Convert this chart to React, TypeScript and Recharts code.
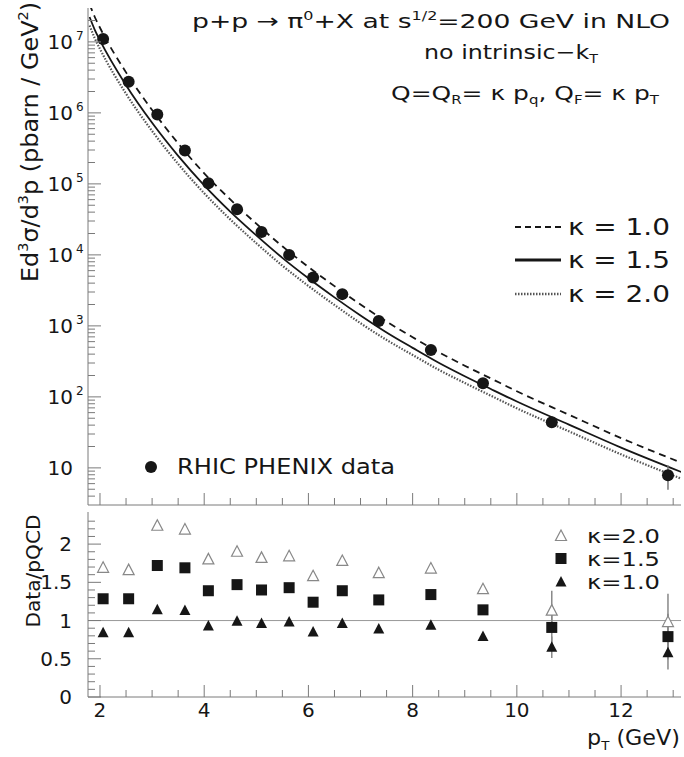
import React from "react";
import {
  ComposedChart,
  ErrorBar,
  Line,
  ReferenceLine,
  Scatter,
  XAxis,
  YAxis,
} from "recharts";

const FONT = "'DejaVu Sans', sans-serif";
const INK = "#161616";
const FRAME = "#7a7a7a";

// PHENIX pi0 points, pT in GeV
const PT = [2.06, 2.55, 3.1, 3.63, 4.08, 4.63, 5.1, 5.63, 6.09, 6.65, 7.35, 8.35, 9.35, 10.67, 12.9];
const XSEC = [1.1e7, 2.75e6, 9.5e5, 2.95e5, 1.02e5, 4.4e4, 2.1e4, 1.0e4, 4.8e3, 2.8e3, 1170, 457, 155, 44, 7.9];
const XSEC_ERR = [0, 0, 0, 0, 0, 0, 0, 0, 0, 0, 0, 0, 0, 0, 3];

// NLO curves
const CURVE_PT = [1.8, 1.9, 2, 2.5, 3, 3.5, 4, 4.5, 5, 5.5, 6, 6.5, 7, 7.5, 8, 8.5, 9, 9.5, 10, 11, 12, 13.2];
const NLO_K10 = [3.39e7, 2.24e7, 1.58e7, 3.72e6, 1.1e6, 3.72e5, 1.41e5, 6.03e4, 2.75e4, 1.32e4, 6760, 3630, 2000, 1150, 692, 427, 275, 182, 120, 56, 26.3, 11.5];
const NLO_K15 = [2.24e7, 1.48e7, 1.05e7, 2.45e6, 7.24e5, 2.48e5, 9.55e4, 4.07e4, 1.88e4, 9080, 4680, 2520, 1400, 807, 490, 302, 195, 129, 86, 40.6, 19.3, 8.5];
const NLO_K20 = [1.7e7, 1.12e7, 7.94e6, 1.86e6, 5.56e5, 1.91e5, 7.38e4, 3.16e4, 1.46e4, 7050, 3650, 1970, 1090, 634, 389, 241, 157, 104, 69, 32.7, 15.5, 6.84];

// Data / pQCD
const RATIO_K20 = [1.69, 1.66, 2.24, 2.19, 1.8, 1.9, 1.82, 1.84, 1.58, 1.78, 1.62, 1.68, 1.41, 1.13, 0.98];
const RATIO_K15 = [1.285, 1.285, 1.72, 1.69, 1.39, 1.47, 1.4, 1.43, 1.24, 1.39, 1.27, 1.34, 1.14, 0.91, 0.79];
const RATIO_K10 = [0.84, 0.84, 1.14, 1.13, 0.93, 0.99, 0.96, 0.98, 0.85, 0.96, 0.89, 0.94, 0.79, 0.65, 0.58];
const ERR_K20 = [0, 0, 0, 0, 0, 0, 0, 0, 0, 0, 0, 0, 0, 0.26, 0.37];
const ERR_K15 = [0, 0, 0, 0, 0, 0, 0, 0, 0, 0, 0, 0, 0, 0.2, 0.3];
const ERR_K10 = [0, 0, 0, 0, 0, 0, 0, 0, 0, 0, 0, 0, 0, 0.14, 0.22];

const X_DOMAIN = [1.77, 13.15];
const X_TICKS = [2, 2.5, 3, 3.5, 4, 4.5, 5, 5.5, 6, 6.5, 7, 7.5, 8, 8.5, 9, 9.5, 10, 10.5, 11, 11.5, 12, 12.5, 13];
const X_LABELS = [2, 4, 6, 8, 10, 12];
const Y_DOMAIN = [3, 3e7];
const RATIO_DOMAIN = [0, 2.42];
const RATIO_TICKS = [0, 0.1, 0.2, 0.3, 0.4, 0.5, 0.6, 0.7, 0.8, 0.9, 1, 1.1, 1.2, 1.3, 1.4, 1.5, 1.6, 1.7, 1.8, 1.9, 2, 2.1, 2.2, 2.3];
const RATIO_LABELS = [0, 0.5, 1, 1.5, 2];

const LOG_TICKS: number[] = [];
for (let e = 0; e <= 7; e++) {
  for (let m = 1; m <= 9; m++) {
    const v = m * Math.pow(10, e);
    if (v > Y_DOMAIN[0] && v < Y_DOMAIN[1]) LOG_TICKS.push(v);
  }
}

const rows = (xs: number[], ys: number[], errs?: number[]) =>
  xs.map((pt, i) => ({ pt, v: ys[i], err: errs ? errs[i] : 0 }));

function XTick(props: any) {
  const { x, y, payload, showLabel } = props;
  const v = payload.value;
  const major = X_LABELS.includes(v);
  return (
    <g>
      <line x1={x} x2={x} y1={y} y2={y - (major ? 12 : 7)} stroke={FRAME} />
      {showLabel && major && (
        <text x={x} y={y + 20} textAnchor="middle" fontSize={20} fill={INK} fontFamily={FONT}>
          {v}
        </text>
      )}
    </g>
  );
}

function LogTick(props: any) {
  const { x, y, payload } = props;
  const v = payload.value;
  const e = Math.round(Math.log10(v));
  const major = Math.abs(Math.log10(v) - e) < 1e-9;
  return (
    <g>
      <line x1={x} x2={x + (major ? 13 : 7)} y1={y} y2={y} stroke={FRAME} />
      {major && (
        <text x={x - 15} y={y + 7} textAnchor="end" fontSize={20} fill={INK} fontFamily={FONT}>
          10
        </text>
      )}
      {major && e > 1 && (
        <text x={x - 12} y={y - 2} fontSize={12} fill={INK} fontFamily={FONT}>
          {e}
        </text>
      )}
    </g>
  );
}

function RatioTick(props: any) {
  const { x, y, payload } = props;
  const v = payload.value;
  const major = RATIO_LABELS.includes(v);
  return (
    <g>
      <line x1={x} x2={x + (major ? 13 : 7)} y1={y} y2={y} stroke={FRAME} />
      {major && (
        <text x={x - 16} y={y + 7} textAnchor="end" fontSize={20} fill={INK} fontFamily={FONT}>
          {v}
        </text>
      )}
    </g>
  );
}

const Dot = (p: any) => <circle cx={p.cx} cy={p.cy} r={6} fill={INK} />;
const Square = (p: any) => <rect x={p.cx - 5.5} y={p.cy - 5.5} width={11} height={11} fill={INK} />;
const triPath = (cx: number, cy: number) =>
  `M${cx},${cy - 6}L${cx + 5.5},${cy + 4.5}L${cx - 5.5},${cy + 4.5}Z`;
const TriFull = (p: any) => <path d={triPath(p.cx, p.cy)} fill={INK} />;
const TriOpen = (p: any) => (
  <path d={triPath(p.cx, p.cy)} fill="#fff" stroke="#888" strokeWidth={1.2} />
);

const frameAxes = (domain: number[]) => [
  <XAxis key="xt" xAxisId="top" orientation="top" type="number" domain={domain} height={0} tick={false} tickLine={false} axisLine={{ stroke: FRAME }} />,
  <YAxis key="yr" yAxisId="right" orientation="right" width={0} tick={false} tickLine={false} axisLine={{ stroke: FRAME }} />,
];

type Part = [string, "n" | "sup" | "sub"];

// tspans with super/subscripts, no empty spans
function Rich({ parts, size }: { parts: Part[]; size: number }) {
  let shift = 0;
  return (
    <>
      {parts.map(([s, k], i) => {
        const target = k === "sup" ? -0.42 * size : k === "sub" ? 0.22 * size : 0;
        const dy = target - shift;
        shift = target;
        return (
          <tspan key={i} dy={dy} fontSize={k === "n" ? size : size * 0.6}>
            {s}
          </tspan>
        );
      })}
    </>
  );
}

function Overlay() {
  const t = { fontFamily: FONT, fill: INK, lengthAdjust: "spacingAndGlyphs" as const };
  const kap = "\u03ba";
  return (
    <svg width={684} height={757} style={{ position: "absolute", left: 0, top: 0, pointerEvents: "none" }}>
      <text {...t} x={192} y={28} textLength={478}>
        <Rich size={20} parts={[["p+p \u2192 \u03c0", "n"], ["0", "sup"], ["+X at s", "n"], ["1/2", "sup"], ["=200 GeV in NLO", "n"]]} />
      </text>
      <text {...t} x={424} y={59} textLength={174}>
        <Rich size={20} parts={[["no intrinsic\u2212k", "n"], ["T", "sub"]]} />
      </text>
      <text {...t} x={391} y={100} textLength={268}>
        <Rich
          size={20}
          parts={[["Q=Q", "n"], ["R", "sub"], [`= ${kap} p`, "n"], ["q", "sub"], [", Q", "n"], ["F", "sub"], [`= ${kap} p`, "n"], ["T", "sub"]]}
        />
      </text>

      <line x1={515} x2={561} y1={227} y2={227} stroke={INK} strokeWidth={2} strokeDasharray="6 4" />
      <text {...t} fontSize={23} x={568} y={235} textLength={102}>{kap} = 1.0</text>
      <line x1={515} x2={561} y1={260} y2={260} stroke={INK} strokeWidth={3} />
      <text {...t} fontSize={23} x={568} y={268} textLength={102}>{kap} = 1.5</text>
      <line x1={515} x2={561} y1={294} y2={294} stroke="#555" strokeWidth={2.5} strokeDasharray="1.5 1.5" />
      <text {...t} fontSize={23} x={568} y={302} textLength={102}>{kap} = 2.0</text>

      <circle cx={151} cy={467} r={6} fill={INK} />
      <text {...t} fontSize={21} x={177} y={474} textLength={218}>RHIC PHENIX data</text>

      <path d={triPath(561, 536)} fill="#fff" stroke="#888" strokeWidth={1.2} />
      <text {...t} fontSize={19} x={587} y={543} textLength={73}>{kap}=2.0</text>
      <rect x={555.5} y={553} width={11} height={11} fill={INK} />
      <text {...t} fontSize={19} x={587} y={566} textLength={73}>{kap}=1.5</text>
      <path d={triPath(561, 582)} fill={INK} />
      <text {...t} fontSize={19} x={587} y={589} textLength={73}>{kap}=1.0</text>

      <text {...t} transform="translate(38,142) rotate(-90)" textAnchor="middle" textLength={280}>
        <Rich size={23} parts={[["Ed", "n"], ["3", "sup"], ["\u03c3/d", "n"], ["3", "sup"], ["p (pbarn / GeV", "n"], ["2", "sup"], [")", "n"]]} />
      </text>
      <text {...t} fontSize={20} transform="translate(40,571) rotate(-90)" textAnchor="middle" textLength={113}>
        Data/pQCD
      </text>
      <text {...t} x={587} y={745} textLength={93}>
        <Rich size={21} parts={[["p", "n"], ["T", "sub"], [" (GeV)", "n"]]} />
      </text>
    </svg>
  );
}

export default function App() {
  const xsec = rows(PT, XSEC, XSEC_ERR);
  const k10 = rows(CURVE_PT, NLO_K10);
  const k15 = rows(CURVE_PT, NLO_K15);
  const k20 = rows(CURVE_PT, NLO_K20);
  const r20 = rows(PT, RATIO_K20, ERR_K20);
  const r15 = rows(PT, RATIO_K15, ERR_K15);
  const r10 = rows(PT, RATIO_K10, ERR_K10);

  return (
    <div style={{ position: "absolute", left: 0, top: 0, width: 684, height: 757, background: "#fff" }}>
      <div style={{ position: "absolute", left: 0, top: 0 }}>
        <ComposedChart width={684} height={506} margin={{ top: 8, right: 3, bottom: 0, left: 0 }}>
          <XAxis
            type="number"
            dataKey="pt"
            domain={X_DOMAIN}
            allowDataOverflow
            ticks={X_TICKS}
            interval={0}
            tick={<XTick showLabel={false} />}
            tickLine={false}
            tickSize={0}
            tickMargin={0}
            height={1}
            axisLine={{ stroke: FRAME }}
          />
          <YAxis
            type="number"
            dataKey="v"
            scale="log"
            domain={Y_DOMAIN}
            allowDataOverflow
            ticks={LOG_TICKS}
            interval={0}
            tick={<LogTick />}
            tickLine={false}
            tickSize={0}
            tickMargin={0}
            width={88}
            axisLine={{ stroke: FRAME }}
          />
          {frameAxes(X_DOMAIN)}
          <Line data={k10} dataKey="v" type="monotone" stroke={INK} strokeWidth={1.8} strokeDasharray="7 5" dot={false} isAnimationActive={false} />
          <Line data={k15} dataKey="v" type="monotone" stroke={INK} strokeWidth={1.8} dot={false} isAnimationActive={false} />
          <Line data={k20} dataKey="v" type="monotone" stroke="#555" strokeWidth={2.2} strokeDasharray="1.5 1.5" dot={false} isAnimationActive={false} />
          <Scatter data={xsec} dataKey="v" shape={Dot} isAnimationActive={false}>
            <ErrorBar dataKey="err" direction="y" width={0} stroke="#777" />
          </Scatter>
        </ComposedChart>
      </div>
      <div style={{ position: "absolute", left: 0, top: 512 }}>
        <ComposedChart width={684} height={245} margin={{ top: 0, right: 3, bottom: 0, left: 0 }}>
          <XAxis
            type="number"
            dataKey="pt"
            domain={X_DOMAIN}
            allowDataOverflow
            ticks={X_TICKS}
            interval={0}
            tick={<XTick showLabel />}
            tickLine={false}
            tickSize={0}
            tickMargin={0}
            height={60}
            axisLine={{ stroke: FRAME }}
          />
          <YAxis
            type="number"
            dataKey="v"
            domain={RATIO_DOMAIN}
            allowDataOverflow
            ticks={RATIO_TICKS}
            interval={0}
            tick={<RatioTick />}
            tickLine={false}
            tickSize={0}
            tickMargin={0}
            width={88}
            axisLine={{ stroke: FRAME }}
          />
          {frameAxes(X_DOMAIN)}
          <ReferenceLine y={1} stroke="#999" strokeWidth={1} />
          <Scatter data={r20} dataKey="v" shape={TriOpen} isAnimationActive={false}>
            <ErrorBar dataKey="err" direction="y" width={0} stroke="#888" />
          </Scatter>
          <Scatter data={r15} dataKey="v" shape={Square} isAnimationActive={false}>
            <ErrorBar dataKey="err" direction="y" width={0} stroke="#888" />
          </Scatter>
          <Scatter data={r10} dataKey="v" shape={TriFull} isAnimationActive={false}>
            <ErrorBar dataKey="err" direction="y" width={0} stroke="#888" />
          </Scatter>
        </ComposedChart>
      </div>
      <Overlay />
    </div>
  );
}
